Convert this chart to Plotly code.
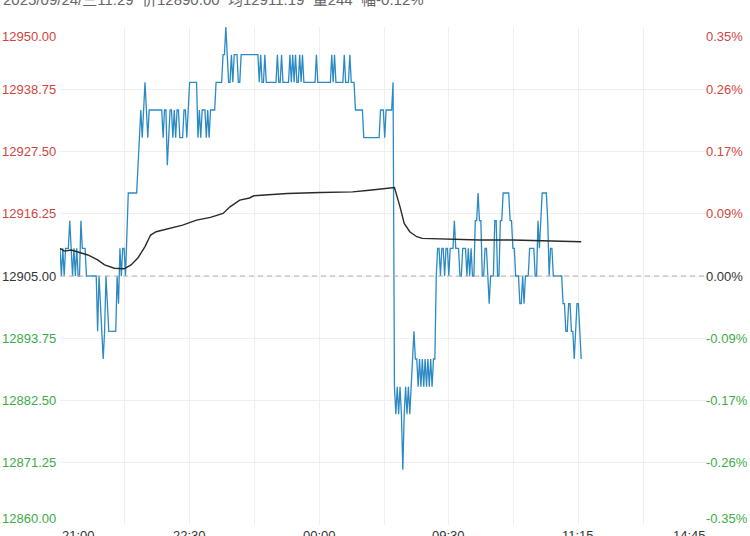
import plotly.graph_objects as go

# header of the quote panel (last minute)
header = '2025/09/24/三11:29\u00a0\u00a0价12890.00\u00a0\u00a0均12911.19\u00a0\u00a0量244\u00a0\u00a0幅-0.12%'

prev_close = 12905.0
total_minutes = 465  # 21:00-01:00, 09:00-10:15, 10:30-11:30, 13:30-15:00

x_labels = ['21:00', '22:30', '00:00', '09:30', '11:15', '14:45']
y_ticks = [12860.00, 12871.25, 12882.50, 12893.75, 12905.00,
           12916.25, 12927.50, 12938.75, 12950.00]

# last price, one value per trading minute from 21:00
price = [
    12910, 12905, 12910, 12905, 12910, 12910, 12910, 12915, 12910, 12905,
    12910, 12905, 12910, 12905, 12905, 12915, 12910, 12910, 12910, 12905,
    12905, 12905, 12905, 12905, 12905, 12905, 12905, 12895, 12905, 12900,
    12895, 12890, 12895, 12905, 12900, 12895, 12895, 12895, 12895, 12895,
    12895, 12905, 12900, 12910, 12905, 12910, 12910, 12905, 12915, 12920,
    12920, 12920, 12920, 12920, 12920, 12920, 12925, 12930, 12935, 12930,
    12935, 12940, 12935, 12930, 12935, 12935, 12935, 12935, 12935, 12935,
    12935, 12935, 12935, 12935, 12930, 12935, 12935, 12925, 12930, 12935,
    12935, 12930, 12935, 12930, 12935, 12935, 12930, 12930, 12930, 12935,
    12935, 12930, 12935, 12940, 12940, 12940, 12940, 12940, 12940, 12930,
    12935, 12930, 12935, 12935, 12935, 12930, 12935, 12930, 12935, 12935,
    12935, 12935, 12940, 12940, 12940, 12940, 12940, 12945, 12945, 12950,
    12945, 12940, 12940, 12945, 12940, 12945, 12945, 12945, 12940, 12940,
    12945, 12945, 12945, 12945, 12945, 12945, 12945, 12945, 12945, 12945,
    12945, 12945, 12945, 12940, 12945, 12940, 12940, 12945, 12940, 12940,
    12940, 12940, 12940, 12940, 12940, 12940, 12945, 12940, 12940, 12945,
    12940, 12940, 12940, 12940, 12940, 12945, 12940, 12945, 12940, 12945,
    12940, 12940, 12945, 12940, 12945, 12940, 12940, 12940, 12940, 12940,
    12940, 12940, 12940, 12940, 12945, 12940, 12940, 12940, 12940, 12940,
    12940, 12940, 12940, 12940, 12940, 12945, 12940, 12945, 12940, 12940,
    12940, 12940, 12940, 12940, 12945, 12940, 12940, 12940, 12945, 12940,
    12940, 12940, 12935, 12935, 12935, 12935, 12935, 12935, 12930, 12930,
    12930, 12930, 12930, 12930, 12930, 12930, 12930, 12930, 12930, 12930,
    12935, 12935, 12935, 12930, 12935, 12935, 12935, 12935, 12935, 12940,
    # day session
    12885, 12880, 12885, 12880, 12885, 12880, 12870, 12880, 12885, 12880,
    12885, 12880, 12885, 12890, 12895, 12890, 12890, 12885, 12890, 12885,
    12890, 12885, 12890, 12885, 12890, 12885, 12890, 12885, 12890, 12890,
    12905, 12910, 12910, 12905, 12910, 12910, 12905, 12910, 12910, 12905,
    12910, 12910, 12910, 12915, 12910, 12910, 12910, 12905, 12905, 12910,
    12910, 12910, 12905, 12910, 12905, 12910, 12905, 12905, 12915, 12915,
    12920, 12915, 12915, 12905, 12905, 12910, 12910, 12905, 12900, 12905,
    12905, 12905, 12915, 12915, 12905, 12905, 12915, 12915, 12920, 12920,
    12920, 12920, 12920, 12915, 12915, 12910, 12910, 12905, 12905, 12905,
    12900, 12900, 12905, 12900, 12905, 12905, 12905, 12910, 12910, 12910,
    12910, 12905, 12905, 12915, 12910, 12915, 12920, 12920, 12920, 12920,
    12915, 12905, 12910, 12910, 12905, 12905, 12905, 12905, 12905, 12905,
    12905, 12900, 12900, 12895, 12895, 12900, 12900, 12895, 12895, 12890,
    12895, 12900, 12900, 12895, 12890,
]

# average price line, read at a few minutes
avg_minute = [0, 3, 8, 20, 27, 32, 39, 46, 51, 56, 61, 65, 69, 79, 88, 98,
              108, 117, 122, 129, 136, 139, 163, 187, 210, 222, 232, 240,
              244, 247, 251, 256, 260, 277, 301, 325, 349, 359, 367, 374]
avg_price = [12910.0, 12909.5, 12909.7, 12908.8, 12907.9, 12907.0, 12906.4,
             12906.3, 12907.0, 12908.3, 12910.3, 12912.4, 12913.0, 12913.6,
             12914.2, 12915.1, 12915.6, 12916.3, 12917.5, 12918.7, 12919.1,
             12919.5, 12919.9, 12920.1, 12920.2, 12920.5, 12920.8, 12921.0,
             12917.5, 12914.5, 12913.0, 12912.1, 12911.8, 12911.7, 12911.5,
             12911.5, 12911.4, 12911.3, 12911.2, 12911.2]

RED = '#d0463e'
GREEN = '#3dab48'
DARK = '#333333'
FONT = 'Liberation Sans, Arial, Noto Sans CJK SC, sans-serif'


def label_color(v):
    if v > prev_close:
        return RED
    if v < prev_close:
        return GREEN
    return DARK


def main():
    fig = go.Figure()
    fig.add_trace(go.Scatter(x=list(range(len(price))), y=price, mode='lines',
                             line=dict(color='#2b8ac4', width=1.3), hoverinfo='skip'))
    fig.add_trace(go.Scatter(x=avg_minute, y=avg_price, mode='lines',
                             line=dict(color='#2a2a2a', width=1.4), hoverinfo='skip'))

    # dashed line at previous close
    fig.add_hline(y=prev_close, line=dict(color='#b0b0b0', width=1, dash='5px,4px'))

    step = total_minutes / 10
    fig.update_xaxes(range=[0, total_minutes], tickvals=[step * i for i in range(1, 10)],
                     showticklabels=False, showgrid=True, gridcolor='#efefef', gridwidth=1,
                     zeroline=False, showline=False, ticks='')
    fig.update_yaxes(range=[y_ticks[0], y_ticks[-1]], tickvals=y_ticks, showticklabels=False,
                     showgrid=True, gridcolor='#efefef', gridwidth=1,
                     zeroline=False, showline=False, ticks='')

    # y labels: price on the left, change on the right
    for i, v in enumerate(y_ticks):
        if i == len(y_ticks) - 1:
            anchor, shift = 'top', 0
        elif i == 0:
            anchor, shift = 'bottom', -3
        else:
            anchor, shift = 'middle', 0
        col = label_color(v)
        pct = (v - prev_close) / prev_close * 100
        fig.add_annotation(x=0, xref='paper', y=v, yref='y', text='%.2f' % v,
                           xanchor='right', yanchor=anchor, xshift=-2, yshift=shift,
                           showarrow=False, font=dict(size=13, color=col, family=FONT))
        fig.add_annotation(x=1, xref='paper', y=v, yref='y', text='%.2f%%' % pct,
                           xanchor='left', yanchor=anchor, xshift=-4, yshift=shift,
                           showarrow=False, font=dict(size=13, color=col, family=FONT))

    # time labels along the bottom
    n = len(x_labels) - 1
    for i, t in enumerate(x_labels):
        anchor = 'left' if i == 0 else ('right' if i == n else 'center')
        fig.add_annotation(x=total_minutes * i / n, xref='x', y=0, yref='paper', text=t,
                           xanchor=anchor, yanchor='top', yshift=-1, showarrow=False,
                           font=dict(size=13, color=DARK, family=FONT))

    fig.add_annotation(x=0, xref='paper', y=1, yref='paper', text=header, xanchor='left',
                       yanchor='middle', xshift=-59, yshift=28, showarrow=False,
                       font=dict(size=15, color='#666666', family=FONT))

    fig.update_layout(width=750, height=536, margin=dict(l=60, r=42, t=27, b=11),
                      plot_bgcolor='white', paper_bgcolor='white', showlegend=False)

    # page has a default body margin; drop it so the chart sits at the corner
    fig.write_html('out.html', config={'displayModeBar': False},
                   post_script="document.body.style.margin='0';")


if __name__ == '__main__':
    main()
